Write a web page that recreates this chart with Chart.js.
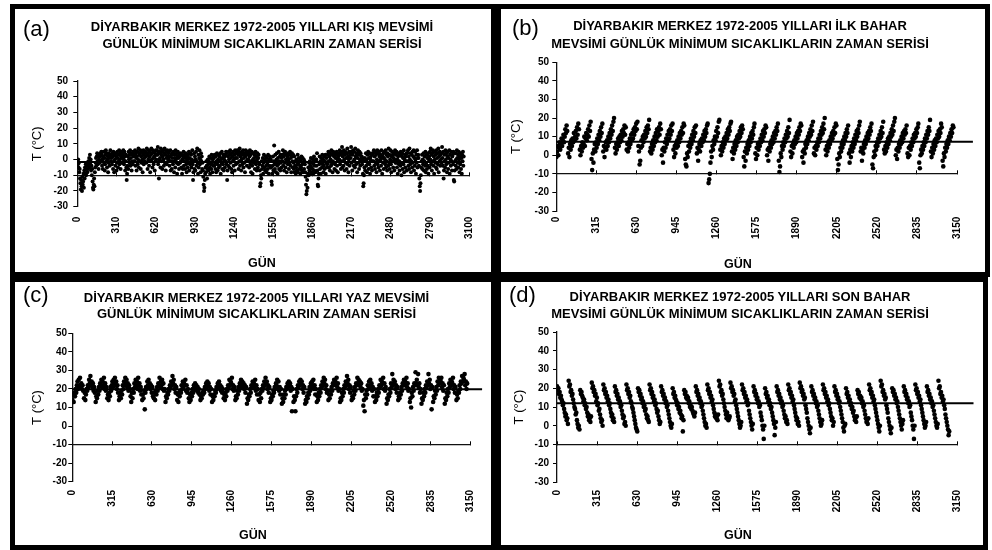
<!DOCTYPE html>
<html>
<head>
<meta charset="utf-8">
<script src="https://cdn.jsdelivr.net/npm/chart.js@4.4.1/dist/chart.umd.min.js"></script>
<style>
  body { margin:0; width:992px; height:550px; position:relative; overflow:hidden; background:#fff;
         font-family:"Liberation Sans", Arial, sans-serif; color:#000; }
  .panel { position:absolute; box-sizing:border-box; border:5px solid #000; background:#fff; }
  .txt { position:absolute; white-space:nowrap; }
  canvas { position:absolute; }
</style>
</head>
<body>
<script>
// ---- data (one inner list per season) ----
const yTicks = [-30, -20, -10, 0, 10, 20, 30, 40, 50];
const xTicksWinter = [0, 310, 620, 930, 1240, 1550, 1860, 2170, 2480, 2790, 3100];
const xTicksSeason = [0, 315, 630, 945, 1260, 1575, 1890, 2205, 2520, 2835, 3150];
const seasonLengths = [90, 92, 92, 91];          // days per season: kış, ilk bahar, yaz, son bahar
const sampleSteps = [3, 5, 5, 5];                // days between two read values
const seasonMeans = [-1.5, 7.3, 19.8, 12.0];     // horizontal mean line of each panel
const meanLineEnds = [3060, 3275, 3240, 3280];   // day where the mean line stops

const winterMin = [
  [-1,-3,0,-5,-2,-8,-6,-12,-15,-19,-13,-17,-20,-11,-16,-14,-9,-18,-7,-12,-5,-9,-3,-10,-6,-2,-8,-4,-6,-1],
  [-2,1,-5,3,-3,0,-7,-4,-10,-6,-14,-18,-19,-16,-12,-17,-8,-5,-2,1,-4,2,4,-1,-3,3,-6,0,2,-2],
  [2,4,-1,5,3,-4,0,-6,2,5,-2,1,-7,-3,3,6,-1,4,-5,0,2,-8,-2,4,1,-4,3,6,-1,2],
  [1,-3,4,2,-6,5,-1,-8,3,0,-4,4,2,-7,-2,5,1,-5,3,-1,6,-3,0,4,-6,2,5,-2,1,3],
  [4,6,0,-3,5,2,-7,-1,3,-5,-13,-9,-4,2,-6,5,0,3,-2,6,-4,1,4,-7,-1,3,-3,5,2,-1],
  [3,-1,6,-4,4,1,-7,2,5,-3,0,7,-5,3,-1,4,6,-6,2,-2,5,0,-8,3,6,-3,1,4,-1,2],
  [5,2,-2,7,3,-6,4,0,6,-4,2,5,-8,-1,3,7,0,4,-5,6,1,-3,5,2,-7,4,-1,6,0,3],
  [6,3,8,-3,4,-12,0,5,1,-5,7,3,-1,5,-6,2,6,0,-4,4,7,-2,3,-7,5,1,-3,6,2,-1],
  [4,0,5,-4,2,6,-7,-1,3,-6,1,4,-3,5,-1,-8,3,1,-5,6,0,-2,4,-9,2,5,-3,1,-6,3],
  [2,-2,4,-1,-5,3,-9,0,-6,2,5,-4,-1,3,-6,1,4,-3,-8,2,0,-5,3,-2,5,-7,1,-3,4,0],
  [3,-5,0,6,-3,-13,-8,-1,4,-6,2,-7,0,5,-4,-1,7,-2,-9,3,-5,1,6,-3,0,-8,4,-1,2,-6],
  [-2,-7,-11,-16,-20,-18,-13,-9,-5,-8,-1,-4,-12,-6,0,-3,-7,-1,2,-5,-9,1,-3,-6,3,-2,-8,0,-4,2],
  [1,-4,3,-2,-6,2,-8,-1,4,-3,-7,0,3,-5,-1,2,-4,4,-9,0,-2,5,-6,1,-3,3,-7,0,2,-5],
  [3,-1,5,-3,4,-13,-7,2,-4,5,0,-5,3,6,-2,1,-6,4,-8,2,-1,5,-4,0,3,-7,6,1,-3,4],
  [4,1,6,-2,3,-6,5,-1,7,-4,2,4,-7,0,5,-3,3,6,-5,1,-2,4,-8,2,6,-1,3,-4,5,0],
  [5,0,4,-5,2,6,-3,3,-8,-1,5,-4,-9,0,4,-2,1,3,-6,-1,5,-3,2,-7,0,4,-5,1,3,-2],
  [-3,-7,-17,-15,-10,-12,-1,-6,-4,1,-9,-2,3,-5,0,-7,-1,2,-4,-8,1,-3,-6,3,-1,-9,0,-4,2,-5],
  [0,-5,-14,-16,-9,-4,2,-7,-1,9,-3,-6,3,-2,-8,0,4,-4,-9,1,-3,5,-6,-1,2,-7,3,-2,-5,1],
  [3,-1,6,-4,2,-7,4,-2,5,-5,0,3,-8,-1,2,-3,4,0,-6,3,-2,5,-4,1,-8,2,4,-1,-5,3],
  [-2,-6,2,-8,-4,-1,-9,-5,0,-7,-3,3,-8,-2,1,-6,-1,-4,-9,0,-5,2,-7,-3,1,-8,-2,0,-6,-1],
  [-3,-8,-11,-16,-22,-20,-13,-18,-9,-5,-10,-2,-7,-1,-4,-9,1,-5,-2,-8,-6,0,-9,-3,2,-7,-4,-1,-8,0],
  [0,-4,4,-7,-16,-17,-12,-9,-3,2,-6,-1,-9,1,-2,-5,3,-3,0,-8,-4,2,-6,-1,3,-9,-2,1,-5,-3],
  [3,-2,5,-1,-5,2,-7,4,0,-4,6,-3,3,-8,-1,5,-2,2,-6,4,-3,1,-7,3,5,-4,0,-8,2,-1],
  [4,0,6,-3,3,-6,5,-1,8,-5,2,4,-4,6,0,-7,3,5,-2,1,-6,4,7,-3,2,-8,0,5,-4,3],
  [5,1,8,-2,4,-7,3,6,-1,-4,5,0,-5,7,2,-3,4,3,-8,1,6,-2,3,-6,5,0,-4,4,-1,2],
  [2,-3,0,-9,-17,-15,-10,-5,1,-7,-1,4,-4,0,-8,3,-2,5,-6,1,-3,4,-9,0,2,-5,3,-7,-1,4],
  [4,-1,6,-4,2,-6,5,-2,3,-8,0,6,-3,4,-5,-1,5,2,-7,3,0,-4,6,1,-9,2,-2,4,-6,1],
  [5,0,-3,6,-5,3,-1,-7,4,2,-4,7,-2,3,-6,0,6,-3,-8,2,5,-1,3,-5,1,4,-7,0,6,-2],
  [3,-2,5,-5,0,-9,2,4,-3,-1,-7,3,-4,5,-2,-10,2,4,-6,1,-3,6,-8,0,3,-5,2,-1,4,-7],
  [4,-1,6,-4,2,-6,7,0,-3,4,-8,-1,3,-5,5,-2,2,6,-7,1,-4,5,0,-9,3,-2,6,-5,1,3],
  [1,-4,-12,-17,-20,-15,-10,-5,-1,3,-6,0,-3,4,-7,-1,2,-4,5,-8,-2,3,-6,1,-4,4,-9,0,2,-5],
  [5,0,7,-3,3,-7,4,-1,6,-4,2,-9,5,0,-2,3,-5,6,-6,1,4,-3,7,-8,2,-1,5,-4,3,0],
  [4,-2,8,1,-4,5,-12,-7,3,-1,-5,6,0,-3,4,-8,2,5,-6,1,-2,6,-9,3,0,-4,5,-1,-7,2],
  [3,-3,5,-13,-14,-7,-1,4,-4,0,-6,6,1,-2,3,-5,5,0,-8,2,-3,4,-6,1,-9,3,-1,5,-4,2]
];

const springMin = [
  [-1,2,5,0,4,7,3,6,9,5,8,11,7,10,14,12,16,13],
  [1,4,-1,6,3,8,5,9,7,12,8,10,13,9,15,11,17,14],
  [3,0,5,2,7,4,6,10,5,9,12,8,11,14,10,16,13,18],
  [-2,-8,1,-4,3,6,2,7,4,9,6,11,8,13,10,15,12,17],
  [2,5,-1,4,7,3,8,5,10,7,12,9,14,11,16,13,18,20],
  [4,1,6,3,7,9,5,10,7,11,8,13,10,14,12,16,11,15],
  [3,6,2,7,4,9,6,11,8,12,9,14,11,15,13,17,14,18],
  [5,2,-5,-3,4,8,5,10,7,11,9,13,10,15,12,16,14,19],
  [2,4,1,6,3,8,5,10,7,12,8,14,10,13,15,11,17,14],
  [0,3,-4,4,2,7,4,9,6,11,8,13,9,14,11,16,13,17],
  [3,-1,5,1,6,4,8,5,10,7,12,9,13,11,15,12,17,16],
  [-2,-5,-6,1,-1,5,2,7,4,9,6,11,8,13,10,15,12,16],
  [1,4,-3,3,6,2,8,5,9,7,11,8,13,10,14,12,16,17],
  [-15,-13,-10,-4,2,-1,5,3,8,6,10,8,13,10,15,12,18,19],
  [3,0,5,2,7,4,9,6,10,8,12,9,14,11,15,13,17,18],
  [2,-2,4,1,6,3,8,5,10,7,11,9,13,10,15,12,16,14],
  [-1,-6,2,-3,4,1,6,3,8,5,10,7,12,9,13,11,15,17],
  [1,-2,4,0,6,3,7,5,9,7,11,8,13,10,14,12,16,15],
  [0,3,-3,4,2,6,4,8,6,10,7,12,9,13,11,15,13,17],
  [-3,-9,-6,1,-1,5,3,7,5,9,7,11,9,13,10,15,12,19],
  [2,-1,5,1,6,4,8,6,10,7,12,9,13,11,15,13,17,16],
  [-1,2,-4,3,1,6,4,8,6,10,8,12,10,14,11,16,13,18],
  [1,4,0,5,3,7,5,9,7,11,9,13,11,15,12,17,14,20],
  [3,0,5,2,7,4,8,6,10,8,12,9,13,11,15,12,17,16],
  [-2,-8,-5,1,-1,4,2,6,4,8,6,10,8,12,10,14,12,16],
  [1,-4,3,-1,5,2,7,4,9,6,11,8,13,10,14,12,16,18],
  [2,4,-3,3,1,6,4,8,6,10,8,12,9,13,11,15,13,17],
  [-5,-7,-1,2,0,5,3,7,5,9,7,11,9,13,10,15,12,18],
  [3,1,5,2,7,4,9,6,10,8,12,10,14,11,16,13,18,20],
  [0,3,-2,4,2,6,4,8,6,10,7,12,9,13,11,14,12,16],
  [1,-1,4,0,5,3,7,5,9,7,11,9,12,10,14,12,15,17],
  [-4,-7,0,3,1,5,3,7,5,9,7,11,9,13,11,15,13,19],
  [2,-1,4,1,6,3,8,5,9,7,11,9,13,10,14,12,17,15],
  [-3,-6,1,-1,4,2,6,4,8,6,10,8,12,10,14,12,16,15]
];

const summerMin = [
  [14,17,13,18,16,20,18,22,24,20,25,22,26,21,23,20,22,19],
  [15,18,14,17,20,19,22,21,25,23,27,22,24,21,23,19,21,18],
  [13,16,15,19,17,21,19,23,22,25,21,24,22,26,20,23,19,21],
  [15,17,14,18,16,21,19,22,24,21,25,23,26,22,24,20,22,18],
  [14,16,18,15,19,17,22,20,24,22,26,23,25,21,23,19,22,20],
  [16,13,18,15,20,18,23,21,25,22,24,20,26,22,23,19,21,17],
  [14,17,15,19,9,18,21,20,24,22,25,21,23,20,22,18,21,16],
  [15,18,14,19,17,21,19,23,22,26,21,24,22,25,20,23,19,20],
  [13,16,15,18,17,20,19,22,21,24,22,27,23,25,20,22,18,21],
  [14,17,13,18,16,19,18,22,20,24,21,23,22,25,19,22,18,20],
  [15,13,17,14,18,16,20,18,22,20,23,21,22,19,21,18,20,17],
  [14,16,15,18,17,19,18,21,20,23,21,24,22,23,19,21,17,20],
  [13,16,14,17,16,19,18,21,20,23,22,24,21,22,19,21,18,20],
  [15,17,14,18,16,20,19,22,21,25,22,24,23,26,20,22,19,21],
  [14,16,15,19,17,21,19,23,22,25,21,24,22,23,20,22,18,21],
  [12,15,14,17,16,20,18,22,21,24,22,23,21,25,19,22,17,20],
  [14,17,13,18,15,20,19,22,21,24,22,26,23,24,20,22,18,21],
  [13,15,14,17,16,19,18,21,20,23,22,25,21,24,19,21,17,20],
  [12,15,13,17,15,19,17,21,20,23,21,24,22,23,19,21,8,20],
  [13,16,14,8,16,20,18,22,21,24,22,25,23,24,20,22,18,21],
  [12,14,13,16,15,18,17,21,19,23,21,24,22,25,20,22,17,20],
  [13,16,14,18,16,20,18,22,21,24,22,26,23,25,20,22,18,19],
  [14,17,15,19,17,21,19,23,22,25,23,24,22,26,21,23,19,20],
  [13,15,14,18,16,20,18,22,21,24,22,27,23,25,20,22,18,21],
  [14,16,15,19,17,21,19,23,22,26,23,25,22,24,21,23,19,20],
  [11,14,8,17,15,19,17,22,20,24,21,25,22,23,19,21,16,20],
  [13,16,14,18,16,20,18,22,21,25,22,24,23,26,20,23,19,21],
  [12,15,14,17,16,20,18,23,21,28,22,25,23,24,20,22,18,21],
  [14,16,15,18,17,21,19,23,22,25,22,24,23,26,21,23,19,20],
  [13,15,10,18,16,21,19,23,22,29,23,25,22,28,21,23,18,20],
  [12,15,14,18,16,20,18,22,21,24,22,28,23,25,20,22,9,21],
  [13,16,15,19,17,21,19,24,22,26,23,25,24,26,21,23,19,22],
  [12,15,14,18,16,20,18,23,21,25,22,24,23,26,20,22,18,21],
  [14,17,15,19,18,22,20,24,23,27,24,26,25,28,22,24,20,23]
];

const autumnMin = [
  [21,19,20,17,18,15,16,14,13,11,12,9,7,5,6,3,4,1],
  [24,21,22,18,19,16,17,14,12,10,9,6,7,3,1,-1,0,-2],
  [19,17,18,16,15,13,14,11,12,9,10,7,5,6,3,4,2,5],
  [23,20,21,18,19,16,17,13,15,11,12,8,9,6,4,2,3,0],
  [22,19,20,17,18,15,16,13,14,11,12,9,7,5,6,3,4,2],
  [21,18,19,16,17,14,15,12,13,10,11,8,6,4,5,1,2,0],
  [22,19,20,17,18,15,16,13,12,10,9,7,5,3,1,-1,-2,-3],
  [20,18,19,16,17,14,15,12,13,10,11,8,9,6,4,5,3,2],
  [22,19,20,17,18,15,16,13,14,11,12,9,7,8,5,3,1,2],
  [21,18,19,16,17,14,15,12,13,10,11,8,6,4,2,0,-1,1],
  [20,17,18,15,16,14,13,11,12,9,10,7,8,6,4,5,-3,3],
  [19,17,18,15,16,14,15,12,13,10,11,9,10,8,7,6,5,7],
  [21,18,19,16,17,14,15,12,13,10,11,8,6,4,2,0,1,-1],
  [22,19,20,17,18,15,16,13,14,11,9,7,5,6,4,5,3,6],
  [24,21,22,18,19,16,17,14,12,10,8,6,4,7,5,3,4,5],
  [23,20,21,18,19,16,17,13,14,11,9,7,5,3,1,-1,0,2],
  [22,19,20,17,18,15,16,13,14,11,12,8,6,4,2,0,-2,1],
  [21,18,19,16,17,14,15,12,13,10,11,7,5,3,0,-2,-7,0],
  [20,17,18,15,16,13,14,11,12,9,10,7,5,3,1,-5,-1,2],
  [21,18,19,16,17,14,15,12,13,10,11,8,6,4,5,2,3,1],
  [22,19,20,17,18,15,16,13,14,11,9,7,5,3,4,1,2,0],
  [23,20,21,18,19,16,17,14,15,11,9,7,4,2,0,-2,-4,-1],
  [21,18,19,16,17,14,15,12,13,10,11,8,6,4,2,0,1,3],
  [22,19,20,17,18,15,16,13,14,11,12,9,7,5,3,4,0,2],
  [21,18,19,16,17,14,15,12,13,10,8,6,4,2,-1,-3,0,1],
  [20,17,18,15,16,13,14,11,12,9,10,7,8,5,3,4,2,5],
  [19,17,18,15,16,14,15,12,13,10,11,8,6,4,2,3,1,4],
  [22,19,20,17,18,15,16,13,14,11,9,7,5,3,1,-1,-3,0],
  [24,21,22,18,19,16,17,14,15,11,9,7,4,2,0,-2,-4,-1],
  [20,18,19,16,17,14,15,12,13,10,8,6,4,2,0,-2,1,3],
  [21,18,19,16,17,14,15,12,13,10,11,7,5,3,0,-2,-7,0],
  [22,19,20,17,18,15,16,13,14,11,9,7,5,3,1,-1,0,2],
  [21,18,19,16,17,14,15,12,13,10,11,8,6,4,2,0,-1,1],
  [24,20,21,17,18,15,16,13,14,11,9,6,4,2,0,-2,-5,-3]
];

const panelLabels = ['(a)', '(b)', '(c)', '(d)'];
const panelTitles = [
  ['DİYARBAKIR MERKEZ 1972-2005 YILLARI KIŞ MEVSİMİ', 'GÜNLÜK MİNİMUM SICAKLIKLARIN ZAMAN SERİSİ'],
  ['DİYARBAKIR MERKEZ 1972-2005 YILLARI İLK BAHAR', 'MEVSİMİ GÜNLÜK MİNİMUM SICAKLIKLARIN ZAMAN SERİSİ'],
  ['DİYARBAKIR MERKEZ 1972-2005 YILLARI YAZ MEVSİMİ', 'GÜNLÜK MİNİMUM SICAKLIKLARIN ZAMAN SERİSİ'],
  ['DİYARBAKIR MERKEZ 1972-2005 YILLARI SON BAHAR', 'MEVSİMİ GÜNLÜK MİNİMUM SICAKLIKLARIN ZAMAN SERİSİ']
];
const xAxisName = 'GÜN';
const yAxisName = 'T (°C)';

// ---- layout (page pixels) ----
const layouts = [
  { box:[10,4,486,273],  canvas:[15,9,476,263],   plot:{l:77.3,r:487.3,t:81,b:206.7}, dot:2.0,
    yPad:5.3, yTitlePad:15.5, xPad:10,  label:[23,37],   title:[262,30.7,48.3], gun:[262,268] },
  { box:[496,4,494,273], canvas:[501,9,484,263],  plot:{l:556.3,r:957,t:62.3,b:211}, dot:2.3,
    yPad:3.3, yTitlePad:8.5,  xPad:5.7, label:[512,35.4], title:[740,30,47.7],  gun:[738,269] },
  { box:[10,277,486,273], canvas:[15,282,476,263], plot:{l:72.3,r:470.7,t:333.3,b:481.7}, dot:2.3,
    yPad:1.3, yTitlePad:15.5, xPad:8.3, label:[23,302.4], title:[256.5,302,317.7], gun:[253,540] },
  { box:[496,277,492,273], canvas:[501,282,482,263], plot:{l:557,r:957,t:332,b:482}, dot:2.3,
    yPad:4,   yTitlePad:11.5, xPad:8,   label:[509,303],  title:[740,301,317.7], gun:[738,540] }
];

const FONT = '"Liberation Sans", Arial, sans-serif';

function addText(str, x, baseline, size, weight, centered){
  const d = document.createElement('div');
  d.className = 'txt';
  d.textContent = str;
  d.style.fontSize = size + 'px';
  d.style.lineHeight = size + 'px';
  d.style.fontWeight = weight;
  d.style.top = (baseline - 0.8465 * size) + 'px';
  d.style.left = x + 'px';
  if (centered) d.style.transform = 'translateX(-50%)';
  document.body.appendChild(d);
}

// season lists -> scatter points (x = day number inside the whole series)
function toPoints(seasons, len, step){
  const pts = [];
  seasons.forEach((vals, s) => vals.forEach((v, j) => pts.push({ x: s * len + j * step + 1, y: v })));
  return pts;
}

function drawPanel(i, values, xTicks){
  const L = layouts[i];
  const box = document.createElement('div');
  box.className = 'panel';
  Object.assign(box.style, { left:L.box[0]+'px', top:L.box[1]+'px', width:L.box[2]+'px', height:L.box[3]+'px' });
  document.body.appendChild(box);

  const [cx, cy, cw, ch] = L.canvas;
  const c = document.createElement('canvas');
  c.width = cw; c.height = ch;
  c.style.left = cx + 'px'; c.style.top = cy + 'px';
  document.body.appendChild(c);

  const yW = L.plot.l - cx;
  const xH = cy + ch - L.plot.b;
  const xMax = xTicks[xTicks.length - 1];
  const setTicks = arr => s => { s.ticks = arr.map(v => ({ value: v })); };
  const tickFont = { family: FONT, size: 10, weight: 'bold' };

  new Chart(c, {
    type: 'scatter',
    data: { datasets: [
      { data: toPoints(values, seasonLengths[i], sampleSteps[i]), pointRadius: L.dot, pointBorderWidth: 0,
        pointBackgroundColor: '#000', showLine: false },
      { type: 'line', data: [{ x: 0, y: seasonMeans[i] }, { x: meanLineEnds[i], y: seasonMeans[i] }],
        borderColor: '#000', borderWidth: 2, pointRadius: 0, clip: false }
    ]},
    options: {
      responsive: false, animation: false, events: [],
      layout: { padding: { top: L.plot.t - cy, right: cx + cw - L.plot.r, left: 0, bottom: 0 } },
      plugins: { legend: { display: false }, tooltip: { enabled: false } },
      scales: {
        x: { type: 'linear', position: 'bottom', min: 0, max: xMax,
             afterBuildTicks: setTicks(xTicks), afterFit: s => { s.height = xH; },
             grid: { display: false, drawTicks: false }, border: { display: false },
             ticks: { autoSkip: false, minRotation: 90, maxRotation: 90, padding: L.xPad,
                      color: '#000', font: tickFont, callback: v => String(v) } },
        // the horizontal axis line crosses at -10
        x2: { type: 'linear', axis: 'x', position: { y: -10 }, min: 0, max: xMax,
              afterBuildTicks: setTicks(xTicks), afterFit: s => { s.height = 0; },
              grid: { drawOnChartArea: false, drawTicks: true, tickLength: -4, color: '#000', lineWidth: 1 },
              border: { display: true, color: '#111', width: 1.3 },
              ticks: { display: false } },
        y: { type: 'linear', min: -30, max: 50,
             afterBuildTicks: setTicks(yTicks), afterFit: s => { s.width = yW; },
             grid: { drawOnChartArea: false, drawTicks: true, tickLength: 4, color: '#000', lineWidth: 1 },
             border: { display: true, color: '#111', width: 1.3 },
             ticks: { padding: L.yPad, color: '#000', font: tickFont, callback: v => String(v) },
             title: { display: true, text: yAxisName, color: '#000',
                      padding: { top: L.yTitlePad, bottom: 0 },
                      font: { family: FONT, size: 13, lineHeight: 1 } } }
      }
    }
  });

  addText(panelLabels[i], L.label[0], L.label[1], 22, 'normal', false);
  addText(panelTitles[i][0], L.title[0], L.title[1], 13, 'bold', true);
  addText(panelTitles[i][1], L.title[0], L.title[2], 13, 'bold', true);
  addText(xAxisName, L.gun[0], L.gun[1], 12.5, 'bold', true);
}

drawPanel(0, winterMin, xTicksWinter);
drawPanel(1, springMin, xTicksSeason);
drawPanel(2, summerMin, xTicksSeason);
drawPanel(3, autumnMin, xTicksSeason);
</script>
</body>
</html>
